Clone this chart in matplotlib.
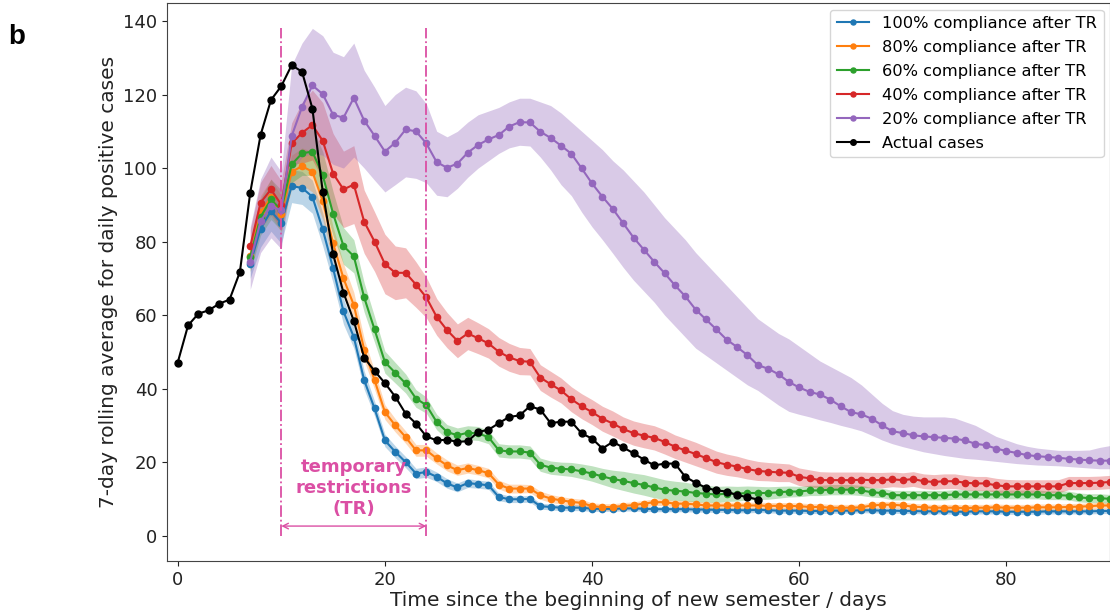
import numpy as np
import matplotlib.pyplot as plt

# daily positive cases, 7-day rolling average
actual_days = list(range(0, 57))
actual_cases = [47.1, 57.2, 60.4, 61.3, 63.1, 64.2, 71.7, 93.3, 109.0, 118.5,
                122.3, 128.0, 126.2, 116.2, 93.5, 76.6, 66.1, 58.4, 48.4, 44.8,
                41.5, 37.8, 33.2, 30.5, 27.0, 25.9, 26.1, 25.5, 25.7, 28.2,
                28.8, 30.6, 32.3, 32.7, 35.2, 34.3, 30.6, 31.0, 31.0, 27.8,
                26.4, 23.7, 25.5, 24.0, 22.4, 20.7, 19.1, 19.6, 19.6, 16.0,
                14.4, 13.0, 12.3, 12.0, 11.0, 10.5, 9.8]

# simulated scenarios, days 7..90
model_days = list(range(7, 91))

c100 = [74.0, 83.5, 88.3, 85.0, 95.1, 94.6, 92.2, 83.3, 72.7, 61.0,
        54.0, 42.3, 34.6, 25.9, 22.8, 20.0, 16.9, 17.3, 16.0, 14.2,
        13.1, 14.3, 14.0, 13.7, 10.5, 9.9, 9.9, 10.0, 8.0, 7.8,
        7.6, 7.6, 7.6, 7.3, 7.3, 7.3, 7.4, 7.4, 7.3, 7.2,
        7.2, 7.2, 7.2, 7.1, 7.1, 7.0, 7.0, 6.9, 6.9, 7.0,
        6.9, 6.8, 6.8, 6.8, 6.7, 6.7, 6.8, 6.8, 6.8, 6.9,
        6.9, 6.8, 6.8, 6.7, 6.7, 6.6, 6.6, 6.6, 6.5, 6.5,
        6.6, 6.6, 6.6, 6.5, 6.5, 6.5, 6.5, 6.6, 6.6, 6.6,
        6.6, 6.6, 6.7, 6.7]
c100_err = [4.0, 5.0, 5.5, 5.5, 4.5, 4.5, 4.5, 4.5, 4.0, 3.5,
            3.0, 2.5, 2.0, 1.7, 1.6, 1.5, 1.4, 1.4, 1.3, 1.3,
            1.2, 1.2, 1.1, 1.1, 1.0, 0.9, 0.9, 0.9, 0.8, 0.8,
            0.8, 0.8, 0.8, 0.7, 0.7, 0.7, 0.7, 0.7, 0.7, 0.7,
            0.7, 0.7, 0.7, 0.7, 0.7, 0.7, 0.7, 0.7, 0.7, 0.7,
            0.7, 0.7, 0.7, 0.7, 0.7, 0.7, 0.7, 0.7, 0.7, 0.7,
            0.7, 0.7, 0.7, 0.7, 0.7, 0.7, 0.7, 0.7, 0.7, 0.7,
            0.7, 0.7, 0.7, 0.7, 0.7, 0.7, 0.7, 0.7, 0.7, 0.7,
            0.7, 0.7, 0.7, 0.7]

c80 = [76.0, 88.0, 92.0, 87.5, 99.0, 100.5, 99.0, 91.0, 79.5, 70.0,
       62.7, 50.6, 42.3, 33.6, 30.0, 26.8, 23.2, 23.2, 21.0, 19.1,
       17.8, 18.4, 17.8, 17.0, 13.9, 12.8, 12.8, 12.8, 11.0, 10.1,
       9.6, 9.2, 8.9, 8.0, 7.8, 7.8, 8.1, 8.3, 8.7, 9.1,
       9.1, 8.7, 8.7, 8.5, 8.2, 8.2, 8.2, 8.2, 8.2, 8.2,
       8.1, 8.1, 8.1, 8.0, 7.8, 7.8, 7.6, 7.6, 7.6, 7.7,
       8.2, 8.4, 8.4, 8.2, 7.9, 7.7, 7.6, 7.6, 7.6, 7.5,
       7.6, 7.6, 7.7, 7.6, 7.6, 7.6, 7.7, 7.7, 7.7, 7.8,
       7.9, 8.0, 8.2, 8.2]
c80_err = [4.0, 4.5, 5.0, 5.0, 4.5, 5.0, 5.5, 5.0, 4.5, 4.0,
           3.5, 3.0, 2.5, 2.0, 1.8, 1.7, 1.6, 1.6, 1.5, 1.5,
           1.4, 1.4, 1.3, 1.3, 1.2, 1.2, 1.2, 1.1, 1.1, 1.1,
           1.0, 1.0, 1.0, 0.9, 0.9, 0.9, 0.9, 0.9, 0.9, 0.9,
           0.9, 0.9, 0.9, 0.9, 0.9, 0.9, 0.9, 0.9, 0.9, 0.9,
           0.9, 0.9, 0.9, 0.9, 0.9, 0.9, 0.9, 0.9, 0.9, 0.9,
           0.9, 0.9, 0.9, 0.9, 0.9, 0.9, 0.9, 0.9, 0.9, 0.9,
           0.9, 0.9, 0.9, 0.9, 0.9, 0.9, 0.9, 0.9, 0.9, 0.9,
           0.9, 0.9, 0.9, 0.9]

c60 = [75.8, 86.7, 91.5, 88.5, 101.0, 104.0, 104.5, 98.0, 87.6, 78.8,
       76.0, 64.8, 56.1, 47.2, 44.3, 41.4, 37.3, 35.5, 30.9, 28.2,
       27.3, 28.0, 27.8, 26.8, 23.2, 22.9, 22.9, 22.6, 19.3, 18.5,
       18.2, 18.0, 17.5, 16.9, 16.1, 15.4, 14.9, 14.3, 13.8, 13.1,
       12.5, 12.2, 12.0, 11.6, 11.4, 11.2, 11.4, 11.4, 11.6, 11.6,
       11.6, 11.8, 12.0, 12.0, 12.3, 12.3, 12.5, 12.5, 12.5, 12.3,
       11.8, 11.6, 11.0, 11.0, 11.0, 11.0, 11.0, 11.0, 11.2, 11.2,
       11.2, 11.2, 11.2, 11.2, 11.2, 11.2, 11.2, 11.0, 11.0, 10.9,
       10.4, 10.2, 10.2, 10.0]
c60_err = [4.0, 5.0, 5.5, 5.5, 5.0, 6.0, 6.5, 6.5, 6.0, 5.0,
           4.5, 4.0, 3.5, 3.0, 2.8, 2.6, 2.4, 2.2, 2.1, 2.0,
           2.0, 1.9, 1.9, 1.8, 1.8, 1.8, 1.8, 1.8, 1.8, 1.8,
           1.8, 1.9, 2.0, 2.1, 2.2, 2.4, 2.6, 2.7, 2.8, 2.8,
           2.7, 2.6, 2.5, 2.4, 2.3, 2.2, 2.1, 2.0, 1.9, 1.8,
           1.7, 1.6, 1.5, 1.4, 1.4, 1.4, 1.4, 1.4, 1.4, 1.4,
           1.3, 1.3, 1.3, 1.3, 1.3, 1.3, 1.3, 1.3, 1.3, 1.3,
           1.2, 1.2, 1.2, 1.2, 1.2, 1.2, 1.2, 1.2, 1.2, 1.2,
           1.2, 1.2, 1.2, 1.2]

c40 = [78.7, 90.6, 94.2, 90.0, 106.7, 109.6, 111.7, 107.4, 98.5, 94.2,
       95.5, 85.4, 80.0, 73.9, 71.5, 71.5, 68.3, 64.8, 59.5, 55.9,
       53.0, 55.0, 53.7, 52.3, 50.0, 48.5, 47.5, 47.3, 43.0, 41.2,
       39.5, 37.1, 35.2, 33.6, 31.8, 30.5, 29.0, 27.9, 27.2, 26.6,
       25.5, 24.2, 23.2, 22.2, 21.1, 20.0, 19.3, 18.8, 18.1, 17.6,
       17.4, 17.2, 17.1, 16.0, 15.6, 15.1, 15.1, 15.1, 15.1, 15.2,
       15.1, 15.1, 15.3, 15.1, 15.4, 14.8, 14.6, 14.8, 14.8, 14.4,
       14.2, 14.2, 13.7, 13.4, 13.4, 13.4, 13.4, 13.4, 13.4, 14.3,
       14.3, 14.3, 14.4, 14.6]
c40_err = [4.5, 5.5, 6.5, 6.5, 5.6, 8.3, 9.5, 10.4, 10.9, 10.4,
           10.6, 8.6, 8.1, 8.1, 7.3, 6.8, 6.2, 5.5, 5.0, 4.8,
           4.6, 4.4, 4.2, 4.0, 3.9, 3.8, 3.7, 3.6, 3.5, 3.5,
           3.4, 3.4, 3.4, 3.4, 3.4, 3.4, 3.3, 3.3, 3.3, 3.3,
           3.3, 3.2, 3.2, 3.2, 3.1, 3.0, 2.9, 2.8, 2.7, 2.6,
           2.5, 2.5, 2.4, 2.4, 2.3, 2.3, 2.2, 2.2, 2.2, 2.1,
           2.1, 2.1, 2.0, 2.0, 2.0, 2.0, 2.0, 2.0, 2.0, 2.0,
           1.9, 1.9, 1.9, 1.9, 1.8, 1.8, 1.8, 1.8, 1.8, 1.8,
           1.8, 1.8, 1.8, 1.8]

c20 = [74.5, 85.6, 89.6, 88.5, 108.7, 116.6, 122.5, 120.1, 114.5, 113.7,
       119.1, 112.9, 108.8, 104.5, 106.9, 110.5, 110.0, 106.7, 101.6, 100.1,
       101.2, 104.2, 106.3, 107.8, 109.0, 111.3, 112.5, 112.4, 109.9, 108.2,
       106.1, 103.9, 99.9, 95.8, 92.2, 88.9, 85.0, 81.1, 77.8, 74.5,
       71.4, 68.1, 65.1, 61.5, 58.8, 56.1, 53.3, 51.3, 49.1, 46.4,
       45.4, 43.9, 41.8, 40.3, 39.1, 38.4, 37.0, 35.2, 33.6, 33.0,
       31.8, 30.0, 28.4, 27.9, 27.3, 27.0, 26.8, 26.6, 26.4, 25.9,
       25.0, 24.6, 23.7, 23.0, 22.5, 21.9, 21.6, 21.4, 21.2, 20.9,
       20.7, 20.5, 20.4, 20.4]
c20_lo = [67.0, 77.0, 81.0, 78.0, 99.0, 103.0, 104.0, 103.5, 101.0, 100.0,
          103.0, 100.0, 96.7, 93.5, 95.5, 97.6, 97.2, 96.0, 92.6, 92.2,
          94.5, 97.5, 100.0, 102.0, 104.0, 105.5, 106.2, 106.0, 103.0, 99.5,
          95.5, 92.5, 88.0, 84.0, 80.5, 76.8, 73.0, 69.5, 66.5, 63.5,
          60.0, 57.0, 54.0, 51.0, 49.0, 47.0, 45.0, 43.0, 41.0, 39.5,
          37.5, 35.5, 33.8, 33.0, 32.3, 31.5, 30.8, 30.0, 29.3, 28.5,
          27.3, 26.0, 25.0, 24.2, 23.5, 22.8, 22.3, 21.8, 21.4, 21.0,
          20.8, 20.5, 20.2, 19.9, 19.6, 19.4, 19.2, 19.1, 19.0, 18.8,
          18.6, 18.4, 18.2, 18.2]
c20_hi = [84.0, 97.0, 103.0, 99.0, 128.0, 134.0, 138.0, 136.0, 131.5, 130.3,
          134.0, 126.6, 122.0, 117.0, 120.0, 122.0, 121.0, 117.5, 110.0, 108.5,
          110.0, 112.5, 114.5, 115.5, 116.5, 118.0, 119.0, 119.0, 118.0, 117.0,
          115.0, 112.5, 110.0, 107.5, 105.0, 102.0, 99.5, 96.5, 93.5, 90.0,
          86.5, 83.5, 80.5, 77.0, 74.0, 71.0, 68.0, 65.0, 62.0, 59.0,
          57.0, 55.0, 53.5, 51.5, 49.5, 47.5, 46.0, 44.5, 43.0, 41.0,
          38.5, 36.0, 34.0, 33.0, 32.5, 32.3, 32.3, 32.3, 32.0, 31.0,
          30.0, 28.5, 27.0, 26.0, 25.0, 24.3, 23.8, 23.5, 23.2, 23.2,
          23.2, 23.3, 24.0, 24.5]

tr_start, tr_end = 10, 24
pink = '#db4fa4'

fig = plt.figure(figsize=(11.1, 6.16), dpi=100)
ax = fig.add_axes([0.1505, 0.0893, 0.8495, 0.9058])

x = np.array(model_days)
scenarios = [
    ('100% compliance after TR', c100, c100_err, '#1f77b4'),
    ('80% compliance after TR', c80, c80_err, '#ff7f0e'),
    ('60% compliance after TR', c60, c60_err, '#2ca02c'),
    ('40% compliance after TR', c40, c40_err, '#d62728'),
]
for label, y, err, col in scenarios:
    y = np.array(y)
    err = np.array(err)
    ax.fill_between(x, y - err, y + err, color=col, alpha=0.3, linewidth=0)
    ax.plot(x, y, '-o', color=col, lw=1.5, ms=4.5, label=label)

ax.fill_between(x, c20_lo, c20_hi, color='#9467bd', alpha=0.35, linewidth=0)
ax.plot(x, c20, '-o', color='#9467bd', lw=1.5, ms=4.5,
        label='20% compliance after TR')

ax.plot(actual_days, actual_cases, '-o', color='black', lw=1.5, ms=5,
        label='Actual cases', zorder=5)

# temporary restrictions window
ax.vlines([tr_start, tr_end], 0, 138, colors=pink, linestyles='-.', lw=1.3)
ax.annotate('', xy=(tr_start, 2.6), xytext=(tr_end, 2.6),
            arrowprops=dict(arrowstyle='<->', color=pink, lw=1.0,
                            shrinkA=0, shrinkB=0))
ax.text(17, 12.9, 'temporary\nrestrictions\n(TR)', color=pink,
        fontsize=13, fontweight='bold', ha='center', va='center',
        multialignment='center', linespacing=1.2)

ax.set_xlim(-1.03, 90)
ax.set_ylim(-6.9, 144.9)
ax.set_xticks([0, 20, 40, 60, 80])
ax.set_yticks(range(0, 141, 20))
ax.tick_params(labelsize=13, colors='#222222')
for s in ax.spines.values():
    s.set_color('#444444')
ax.set_xlabel('Time since the beginning of new semester / days', fontsize=14.5,
              color='#222222', labelpad=2)
ax.set_ylabel('7-day rolling average for daily positive cases', fontsize=14.5,
              color='#222222')

ax.legend(loc='upper right', fontsize=11.7, handlelength=2.0,
          borderaxespad=0.4, labelspacing=0.55, markerscale=0.8)

fig.text(0.007, 1 - 44 / 616, 'b', fontsize=20, fontweight='bold',
         family='Liberation Sans', va='baseline')

fig.savefig('out.png', dpi=100)
